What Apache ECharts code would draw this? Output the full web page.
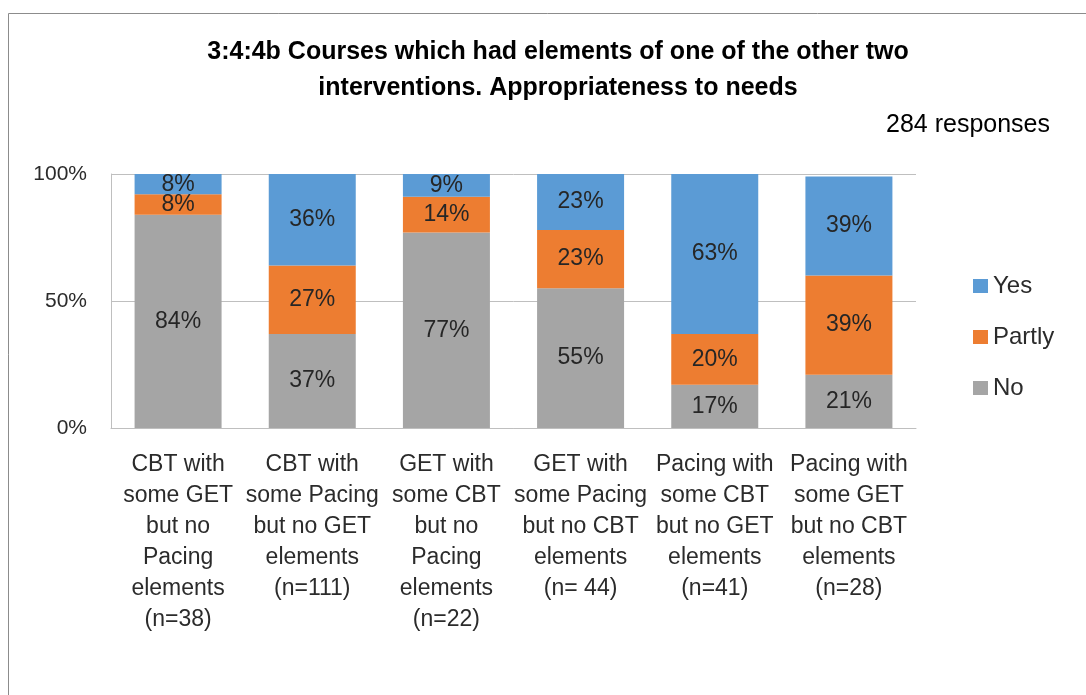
<!DOCTYPE html>
<html>
<head>
<meta charset="utf-8">
<script src="https://cdn.jsdelivr.net/npm/echarts@6/dist/echarts.min.js"></script>
<style>
  html, body { margin: 0; padding: 0; background: #fff; }
  #container { width: 1086px; height: 695px; }
</style>
</head>
<body>
<div id="container"></div>
<script>
// course groups (x axis)
var courses = [
  'CBT with\nsome GET\nbut no\nPacing\nelements\n(n=38)',
  'CBT with\nsome Pacing\nbut no GET\nelements\n(n=111)',
  'GET with\nsome CBT\nbut no\nPacing\nelements\n(n=22)',
  'GET with\nsome Pacing\nbut no CBT\nelements\n(n= 44)',
  'Pacing with\nsome CBT\nbut no GET\nelements\n(n=41)',
  'Pacing with\nsome GET\nbut no CBT\nelements\n(n=28)'
];
// percentages per answer
var noVals = [84, 37, 77, 55, 17, 21];
var partlyVals = [8, 27, 14, 23, 20, 39];
var yesVals = [8, 36, 9, 23, 63, 39];
var yTicks = [0, 50, 100];

var textColor = '#2b2b2b';
var fontFam = '"Liberation Sans", Arial, sans-serif';

var charts = echarts.init(document.getElementById('container'));

function barSeries(name, data, color) {
    return {
        name: name,
        type: 'bar',
        stack: 'all',
        data: data,
        barWidth: 87,
        itemStyle: { color: color },
        label: {
            show: true,
            position: 'inside',
            formatter: '{c}%',
            color: '#262626',
            fontSize: 23,
            fontFamily: fontFam
        },
        emphasis: { disabled: true }
    };
}

var option = {
    backgroundColor: '#fff',
    animation: false,
    textStyle: { fontFamily: fontFam },
    title: [{
        text: '3:4:4b Courses which had elements of one of the other two\ninterventions. Appropriateness to needs',
        left: 553,
        textAlign: 'center',
        top: 29,
        textStyle: {
            fontSize: 25,
            fontWeight: 'bold',
            color: '#000',
            lineHeight: 36,
            fontFamily: fontFam
        }
    }, {
        text: '284 responses',
        right: 31,
        top: 108,
        textStyle: {
            fontSize: 25,
            fontWeight: 'normal',
            color: '#000',
            fontFamily: fontFam
        }
    }],
    legend: {
        data: ['Yes', 'Partly', 'No'],
        orient: 'vertical',
        left: 968,
        top: 269,
        icon: 'rect',
        itemWidth: 15,
        itemHeight: 14,
        itemGap: 27,
        selectedMode: false,
        textStyle: { fontSize: 24, color: textColor, fontFamily: fontFam, padding: [0, 0, 0, 0] }
    },
    grid: { left: 111, right: 170, top: 174, bottom: 267 },
    xAxis: {
        type: 'category',
        data: courses,
        axisLine: { show: true, lineStyle: { color: '#bfbfbf', width: 1 } },
        axisTick: { show: false },
        axisLabel: {
            interval: 0,
            color: textColor,
            fontSize: 23,
            lineHeight: 31,
            margin: 21,
            fontFamily: fontFam
        }
    },
    yAxis: {
        type: 'value',
        min: yTicks[0],
        max: yTicks[yTicks.length - 1],
        interval: 50,
        axisLine: { show: true, lineStyle: { color: '#bfbfbf', width: 1 } },
        axisTick: { show: false },
        splitLine: { lineStyle: { color: '#bfbfbf', width: 1 } },
        axisLabel: {
            formatter: '{value}%',
            color: textColor,
            fontSize: 21,
            margin: 24,
            fontFamily: fontFam
        }
    },
    graphic: [{
        type: 'rect',
        shape: { x: 8.5, y: 13.5, width: 1100, height: 720 },
        style: { fill: 'none', stroke: '#8c8c8c', lineWidth: 1 },
        silent: true
    }],
    series: [
        barSeries('No', noVals, '#a5a5a5'),
        barSeries('Partly', partlyVals, '#ed7d31'),
        barSeries('Yes', yesVals, '#5b9bd5')
    ]
};
charts.setOption(option);
</script>
</body>
</html>
